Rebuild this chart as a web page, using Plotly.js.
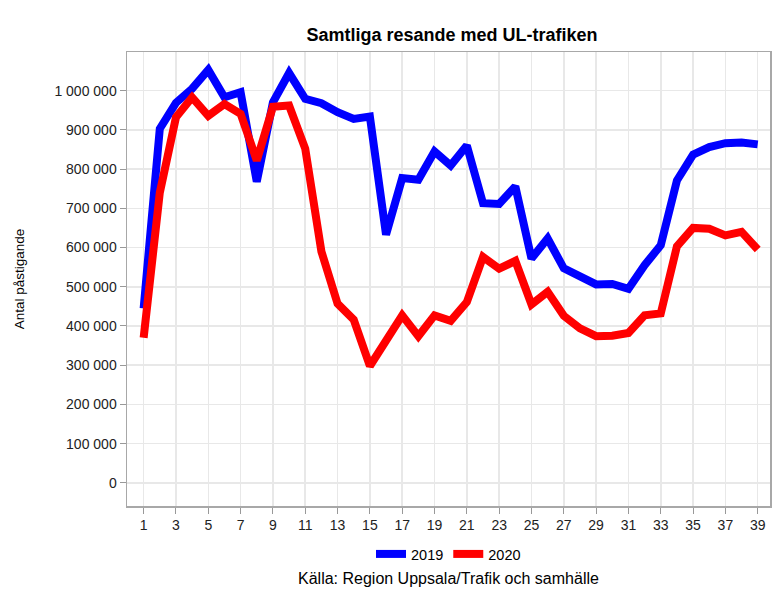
<!DOCTYPE html>
<html>
<head>
<meta charset="utf-8">
<script src="https://cdn.plot.ly/plotly-3.0.1.min.js"></script>
<style>html,body{margin:0;padding:0;background:#fff;}#chart{width:777px;height:595px;}</style>
</head>
<body>
<div id="chart"></div>
<script>
const weeks = [1,2,3,4,5,6,7,8,9,10,11,12,13,14,15,16,17,18,19,20,21,22,23,24,25,26,27,28,29,30,31,32,33,34,35,36,37,38,39];
const values2019 = [445000,903000,969000,1005000,1053000,983000,996000,768000,970000,1045000,979000,968000,945000,928000,934000,633000,777000,773000,845000,809000,860000,713000,711000,756000,572000,623000,547000,527000,506000,507000,495000,555000,606000,771000,837000,856000,866000,868000,863000];
const values2020 = [370000,740000,932000,983000,936000,966000,941000,822000,959000,962000,852000,590000,457000,416000,298000,364000,427000,374000,427000,413000,461000,576000,546000,566000,455000,487000,426000,394000,374000,375000,382000,427000,432000,603000,650000,648000,631000,640000,595000];
const seriesNames = ["2019","2020"];
const titleText = "Samtliga resande med UL-trafiken";
const yTitle = "Antal påstigande";
const sourceText = "Källa: Region Uppsala/Trafik och samhälle";

const font = "Liberation Sans, Arial, sans-serif";
const traces = [
  {x: weeks, y: values2019, name: seriesNames[0], type: "scatter", mode: "lines",
   line: {color: "#0000ff", width: 8}},
  {x: weeks, y: values2020, name: seriesNames[1], type: "scatter", mode: "lines",
   line: {color: "#ff0000", width: 8}}
];
const layout = {
  width: 777, height: 595,
  margin: {l: 127, r: 7, t: 52, b: 89},
  paper_bgcolor: "#fff", plot_bgcolor: "#fff",
  separators: ", ",
  font: {family: font, size: 14, color: "#222"},
  title: {text: "<b>" + titleText + "</b>", x: 452/777, xanchor: "center", y: 1 - 35/595, yanchor: "middle",
          font: {family: font, size: 18, color: "#000"}},
  xaxis: {range: [-0.03, 39.76], tick0: 1, dtick: 2, ticks: "outside", ticklen: 6, tickcolor: "#999",
          showgrid: true, gridcolor: "#e8e8e8", gridwidth: 1.5, zeroline: false,
          showline: true, linecolor: "#a8a8a8", linewidth: 1.5, mirror: true,
          tickfont: {size: 14, color: "#222"}},
  yaxis: {range: [-59000, 1098600], tick0: 0, dtick: 100000, tickformat: ",d", ticks: "outside", ticklen: 6, tickcolor: "#999",
          showgrid: true, gridcolor: "#e8e8e8", gridwidth: 1.5, zeroline: false,
          showline: true, linecolor: "#a8a8a8", linewidth: 1.5, mirror: true,
          tickfont: {size: 14, color: "#222"},
          title: {text: yTitle, standoff: 26, font: {size: 13.5, color: "#000"}}},
  showlegend: true,
  legend: {orientation: "h", x: 0.5, xanchor: "center", y: (506 - 554) / 454, yanchor: "middle",
           font: {size: 14.5, color: "#000"}, itemwidth: 30, tracegroupgap: 0},
  annotations: [{text: sourceText, xref: "paper", yref: "paper", x: 0.5, y: (506 - 578) / 454,
                 xanchor: "center", yanchor: "middle", showarrow: false, font: {size: 16, color: "#000"}}]
};
Plotly.newPlot("chart", traces, layout, {displayModeBar: false, staticPlot: true});
</script>
</body>
</html>
